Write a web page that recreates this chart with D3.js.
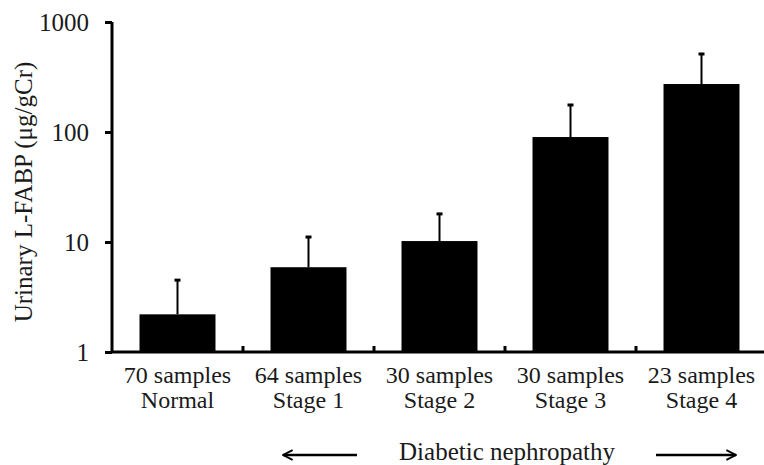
<!DOCTYPE html>
<html>
<head>
<meta charset="utf-8">
<script src="https://cdn.jsdelivr.net/npm/d3@7"></script>
<style>
  body { margin: 0; background: #fff; }
  svg text { font-family: "Liberation Serif", "DejaVu Serif", serif; fill: #1a1a1a; }
</style>
</head>
<body>
<div id="chart"></div>
<script>
// 数据
var samples = ["70 samples", "64 samples", "30 samples", "30 samples", "23 samples"];
var stages = ["Normal", "Stage 1", "Stage 2", "Stage 3", "Stage 4"];
var means = [2.2, 5.9, 10.2, 90, 273];
var upperErr = [4.5, 11.1, 18, 176, 512];
var yTicks = [1, 10, 100, 1000];

var width = 764, height = 465;
var margin = { top: 22, right: -3, bottom: 113, left: 112 };
var serif = "'Liberation Serif', 'DejaVu Serif', serif";

var svg = d3.select("#chart").append("svg")
  .attr("width", width)
  .attr("height", height)
  .attr("font-family", serif);

var idx = d3.range(means.length);

var x = d3.scaleBand()
  .domain(idx)
  .range([margin.left, width - margin.right])
  .paddingInner(0.42)
  .paddingOuter(0.21);

var y = d3.scaleLog()
  .domain([1, 1000])
  .range([height - margin.bottom, margin.top]);

// 柱子
svg.selectAll(".bar")
  .data(idx)
  .join("rect")
  .attr("class", "bar")
  .attr("x", i => x(i))
  .attr("width", x.bandwidth())
  .attr("y", i => y(means[i]))
  .attr("height", i => y(1) - y(means[i]))
  .attr("fill", "#000");

// 误差线
var err = svg.append("g");
err.selectAll(".ev")
  .data(idx)
  .join("line")
  .attr("x1", i => x(i) + x.bandwidth() / 2)
  .attr("x2", i => x(i) + x.bandwidth() / 2)
  .attr("y1", i => y(means[i]))
  .attr("y2", i => y(upperErr[i]))
  .attr("stroke", "#000")
  .attr("stroke-width", 2);
err.selectAll(".cap")
  .data(idx)
  .join("line")
  .attr("x1", i => x(i) + x.bandwidth() / 2 - 3)
  .attr("x2", i => x(i) + x.bandwidth() / 2 + 3)
  .attr("y1", i => y(upperErr[i]))
  .attr("y2", i => y(upperErr[i]))
  .attr("stroke", "#000")
  .attr("stroke-width", 3);

// y 坐标轴
var yAxis = d3.axisLeft(y)
  .tickValues(yTicks)
  .tickFormat(d3.format("d"))
  .tickSize(7)
  .tickPadding(16);
var gy = svg.append("g")
  .attr("transform", `translate(${margin.left},0)`)
  .call(yAxis)
  .attr("font-family", serif);
gy.select(".domain").attr("stroke", "#000").attr("stroke-width", 3)
  .attr("d", `M0,${y(1000)}V${y(1)}`);
gy.selectAll(".tick line").attr("stroke", "#000").attr("stroke-width", 3);
gy.selectAll(".tick text")
  .attr("font-size", 25)
  .attr("fill", "#1a1a1a");

// x 坐标轴
var step = x.step();
svg.append("line")
  .attr("x1", margin.left)
  .attr("x2", width)
  .attr("y1", y(1))
  .attr("y2", y(1))
  .attr("stroke", "#000")
  .attr("stroke-width", 3);
svg.selectAll(".xt")
  .data(d3.range(1, means.length))
  .join("line")
  .attr("x1", k => margin.left + k * step)
  .attr("x2", k => margin.left + k * step)
  .attr("y1", y(1))
  .attr("y2", y(1) - 6)
  .attr("stroke", "#000")
  .attr("stroke-width", 3);

// x 标签
svg.selectAll(".xs")
  .data(idx)
  .join("text")
  .attr("text-anchor", "middle")
  .attr("font-size", 24)
  .attr("x", i => x(i) + x.bandwidth() / 2)
  .attr("y", 383)
  .text(i => samples[i]);
svg.selectAll(".xn")
  .data(idx)
  .join("text")
  .attr("text-anchor", "middle")
  .attr("font-size", 24)
  .attr("x", i => x(i) + x.bandwidth() / 2)
  .attr("y", 408)
  .text(i => stages[i]);

// y 标签
svg.append("text")
  .attr("transform", "translate(32,192) rotate(-90)")
  .attr("text-anchor", "middle")
  .attr("font-size", 25)
  .text("Urinary L-FABP (\u03bcg/gCr)");

// 底部 Diabetic nephropathy
svg.append("text")
  .attr("x", 507)
  .attr("y", 460)
  .attr("text-anchor", "middle")
  .attr("font-size", 25)
  .text("Diabetic nephropathy");

svg.append("defs").append("marker")
  .attr("id", "arr")
  .attr("viewBox", "0 0 10 10")
  .attr("refX", 9)
  .attr("refY", 5)
  .attr("markerWidth", 5)
  .attr("markerHeight", 5)
  .attr("markerUnits", "strokeWidth")
  .attr("orient", "auto")
  .append("path")
  .attr("d", "M1,1L9,5L1,9")
  .attr("fill", "none")
  .attr("stroke", "#000")
  .attr("stroke-width", 1.6);

svg.append("line")
  .attr("x1", 357).attr("x2", 283)
  .attr("y1", 455).attr("y2", 455)
  .attr("stroke", "#000").attr("stroke-width", 2.4)
  .attr("marker-end", "url(#arr)");
svg.append("line")
  .attr("x1", 656).attr("x2", 736)
  .attr("y1", 455).attr("y2", 455)
  .attr("stroke", "#000").attr("stroke-width", 2.4)
  .attr("marker-end", "url(#arr)");
</script>
</body>
</html>
